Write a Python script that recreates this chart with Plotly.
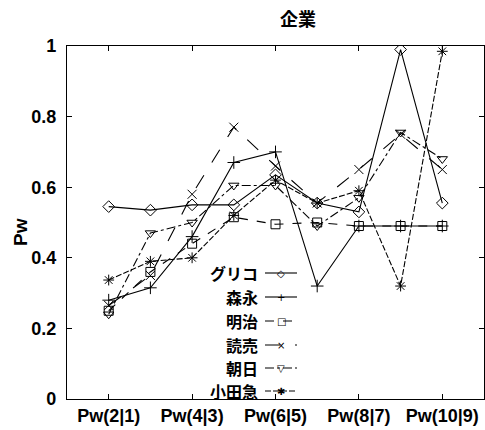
import plotly.graph_objects as go

# ---- data ----
categories = ["Pw(2|1)", "Pw(3|2)", "Pw(4|3)", "Pw(5|4)", "Pw(6|5)",
              "Pw(7|6)", "Pw(8|7)", "Pw(9|8)", "Pw(10|9)"]
tick_labels = ["Pw(2|1)", "Pw(4|3)", "Pw(6|5)", "Pw(8|7)", "Pw(10|9)"]
y_ticks = [0, 0.2, 0.4, 0.6, 0.8, 1]
y_tick_text = ["0", "0.2", "0.4", "0.6", "0.8", "1"]

glico = [0.545, 0.535, 0.55, 0.55, 0.635, 0.555, 0.53, 0.99, 0.555]
morinaga = [0.28, 0.315, 0.46, 0.67, 0.70, 0.32, 0.49, 0.49, 0.49]
meiji = [0.25, 0.36, 0.44, 0.515, 0.495, 0.50, 0.49, 0.49, 0.49]
yomiuri = [0.265, 0.35, 0.58, 0.77, 0.66, 0.555, 0.65, 0.75, 0.65]
asahi = [0.24, 0.47, 0.50, 0.605, 0.605, 0.49, 0.57, 0.755, 0.68]
odakyu = [0.337, 0.39, 0.40, 0.52, 0.62, 0.555, 0.59, 0.32, 0.985]

series_names = ["グリコ", "森永", "明治", "読売", "朝日", "小田急"]
series_values = [glico, morinaga, meiji, yomiuri, asahi, odakyu]
series_dash = ["solid", "solid", "dash", "longdash", "dashdot", "6px,2px"]
series_symbol = ["diamond-open", "cross-thin-open", "square-open",
                 "x-thin-open", "triangle-down-open", "asterisk-open"]
legend_glyph = ["◇", "+", "□", "×", "▽", "✱"]

title_text = "企業"
y_title = "Pw"

# ---- layout geometry (pixels) ----
W, H = 485, 430
L, R, T, B = 67, 1, 46, 31
pw, ph = W - L - R, H - T - B

def px_x(x):
    return (x - L) / pw

def px_y(y):
    return (H - B - y) / ph

font_main = "Liberation Sans, Arial, Noto Sans CJK JP, sans-serif"
font_jp = "Noto Sans CJK JP, sans-serif"

fig = go.Figure()
for name, vals, dash, sym in zip(series_names, series_values, series_dash, series_symbol):
    fig.add_trace(go.Scatter(
        x=categories, y=vals, name=name, mode="lines+markers",
        line=dict(color="black", width=1.1, dash=dash),
        marker=dict(symbol=sym, size=9, color="black",
                    line=dict(color="black", width=1.0)),
        showlegend=False,
    ))

# custom legend: text right-aligned, sample line to the right
row_y = [273, 297, 321, 345, 368, 391]
annotations = []
shapes = []
for name, dash, glyph, ry in zip(series_names, series_dash, legend_glyph, row_y):
    annotations.append(dict(
        x=px_x(260), y=px_y(ry), xref="paper", yref="paper",
        text=name, showarrow=False, xanchor="right", yanchor="middle",
        font=dict(family=font_jp, size=16, color="black", weight="bold"),
    ))
    shapes.append(dict(
        type="line", xref="paper", yref="paper",
        x0=px_x(265), x1=px_x(297), y0=px_y(ry), y1=px_y(ry),
        line=dict(color="black", width=1.1, dash=dash),
    ))
    annotations.append(dict(
        x=px_x(281), y=px_y(ry), xref="paper", yref="paper",
        text=glyph, showarrow=False, xanchor="center", yanchor="middle",
        font=dict(family="DejaVu Sans", size=10, color="black"),
    ))

annotations.append(dict(
    x=px_x(20), y=px_y(232), xref="paper", yref="paper",
    text=y_title, showarrow=False, textangle=-90,
    xanchor="center", yanchor="middle",
    font=dict(family=font_main, size=19, color="black", weight="bold"),
))
annotations.append(dict(
    x=px_x(298), y=px_y(18), xref="paper", yref="paper",
    text=title_text, showarrow=False, xanchor="center", yanchor="middle",
    font=dict(family=font_jp, size=18, color="black", weight="bold"),
))

fig.update_layout(
    width=W, height=H,
    margin=dict(l=L, r=R, t=T, b=B, pad=0),
    paper_bgcolor="white", plot_bgcolor="white",
    annotations=annotations, shapes=shapes,
    showlegend=False,
)
fig.update_xaxes(
    type="category", categoryorder="array", categoryarray=categories,
    range=[-1, len(categories)],
    tickmode="array", tickvals=tick_labels, ticktext=tick_labels,
    showgrid=False, zeroline=False,
    showline=True, linecolor="black", linewidth=1.2, mirror="ticks",
    ticks="inside", ticklen=5, tickcolor="black",
    tickfont=dict(family=font_main, size=18, color="black", weight="bold"),
)
fig.update_yaxes(
    range=[0, 1], tickmode="array", tickvals=y_ticks, ticktext=y_tick_text,
    showgrid=False, zeroline=False,
    showline=True, linecolor="black", linewidth=1.2, mirror="ticks",
    ticks="inside", ticklen=5, tickcolor="black", ticklabelstandoff=6,
    tickfont=dict(family=font_main, size=18, color="black", weight="bold"),
)

fig.write_html("out.html")
